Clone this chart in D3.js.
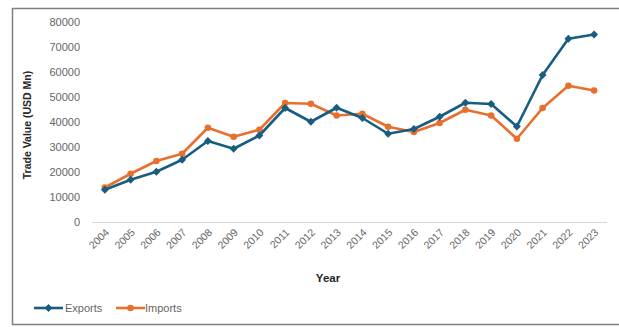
<!DOCTYPE html>
<html>
<head>
<meta charset="utf-8">
<script src="https://cdn.jsdelivr.net/npm/d3@7"></script>
<style>
  body { margin: 0; background: #fff; }
  svg { display: block; font-family: "Liberation Sans", Arial, sans-serif; }
</style>
</head>
<body>
<script>
const years = ["2004","2005","2006","2007","2008","2009","2010","2011","2012","2013",
  "2014","2015","2016","2017","2018","2019","2020","2021","2022","2023"];
const exportsVals = [12900, 16900, 20100, 24900, 32400, 29300, 34600, 45600, 40100, 45700,
  41600, 35300, 37200, 42100, 47700, 47200, 38200, 58800, 73300, 75000];
const importsVals = [13800, 19300, 24400, 27300, 37700, 34100, 36900, 47600, 47300, 42600,
  43300, 38100, 36000, 39600, 44900, 42600, 33300, 45600, 54500, 52600];
const yTicks = [0, 10000, 20000, 30000, 40000, 50000, 60000, 70000, 80000];

const W = 619, H = 327;
const blue = "#175d80", orange = "#e8702f";

const svg = d3.select("body").append("svg").attr("width", W).attr("height", H);

// chart frame
svg.append("rect")
  .attr("x", 12.5).attr("y", 8.5).attr("width", 620).attr("height", 316)
  .attr("fill", "#fff").attr("stroke", "#7f7f7f").attr("stroke-width", 1.5);

const x = d3.scaleBand().domain(years).range([92, 607]);
const y = d3.scaleLinear().domain([0, 80000]).range([222, 22]);

// y axis labels
svg.append("g").selectAll("text").data(yTicks).join("text")
  .attr("x", 80).attr("y", d => y(d)).attr("dy", "0.35em")
  .attr("text-anchor", "end").attr("font-size", 11).attr("fill", "#666")
  .text(d => d);

// baseline
svg.append("line")
  .attr("x1", 92).attr("x2", 607).attr("y1", y(0) + 0.5).attr("y2", y(0) + 0.5)
  .attr("stroke", "#d9d9d9").attr("stroke-width", 1);

// x tick labels
svg.append("g").selectAll("text").data(years).join("text")
  .attr("transform", d => `translate(${x(d) + x.bandwidth() / 2 + 5},${233}) rotate(-45)`)
  .attr("text-anchor", "end").attr("font-size", 10.5).attr("fill", "#666")
  .text(d => d);

// axis titles
svg.append("text")
  .attr("transform", `translate(31,125) rotate(-90)`)
  .attr("text-anchor", "middle").attr("font-size", 10.5).attr("font-weight", "bold")
  .attr("fill", "#262626").text("Trade Value (USD Mn)");
svg.append("text")
  .attr("x", 328).attr("y", 282).attr("text-anchor", "middle")
  .attr("font-size", 11.5).attr("font-weight", "bold").attr("fill", "#262626")
  .text("Year");

const cx = d => x(d) + x.bandwidth() / 2;
const line = d3.line().x(d => cx(d.year)).y(d => y(d.v));

const series = [
  { name: "Exports", vals: exportsVals, color: blue, sym: d3.symbolDiamond2 },
  { name: "Imports", vals: importsVals, color: orange, sym: d3.symbolCircle }
];

series.slice().reverse().forEach(s => {
  const pts = years.map((yr, i) => ({ year: yr, v: s.vals[i] }));
  svg.append("path").datum(pts)
    .attr("d", line).attr("fill", "none")
    .attr("stroke", s.color).attr("stroke-width", 2.6)
    .attr("stroke-linejoin", "round");
  svg.append("g").selectAll("path").data(pts).join("path")
    .attr("transform", d => `translate(${cx(d.year)},${y(d.v)})`)
    .attr("d", d3.symbol().type(s.sym).size(s.name === "Exports" ? 40 : 34))
    .attr("fill", s.color);
});

// legend
const legend = svg.append("g").attr("transform", "translate(0,308)");
[{ s: series[0], x0: 34, tx: 65 }, { s: series[1], x0: 116, tx: 145 }].forEach(l => {
  legend.append("line").attr("x1", l.x0).attr("x2", l.x0 + 29)
    .attr("stroke", l.s.color).attr("stroke-width", 2.6);
  legend.append("path").attr("transform", `translate(${l.x0 + 14.5},0)`)
    .attr("d", d3.symbol().type(l.s.sym).size(l.s.name === "Exports" ? 40 : 34))
    .attr("fill", l.s.color);
  legend.append("text").attr("x", l.tx).attr("y", 0).attr("dy", "0.35em")
    .attr("font-size", 11).attr("fill", "#666").text(l.s.name);
});
</script>
</body>
</html>
